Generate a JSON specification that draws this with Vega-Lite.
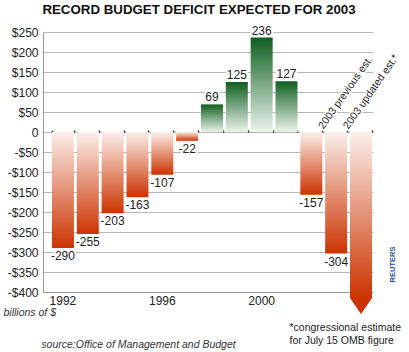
{
  "$schema": "https://vega.github.io/schema/vega-lite/v6.json",
  "width": 330,
  "height": 260,
  "autosize": "none",
  "padding": {"left": 43, "top": 32, "right": 36, "bottom": 60},
  "background": "white",
  "config": {
    "font": "Liberation Sans",
    "view": {"stroke": null},
    "text": {"font": "Liberation Sans"}
  },
  "title": {
    "text": "RECORD BUDGET DEFICIT EXPECTED FOR 2003",
    "font": "Liberation Sans",
    "fontSize": 13.3,
    "fontWeight": "bold",
    "color": "#111111",
    "anchor": "middle",
    "frame": "group",
    "offset": 8,
    "dx": -9
  },
  "data": {
    "values": [
      {"year": "1992", "value": -290, "kind": "actual"},
      {"year": "1993", "value": -255, "kind": "actual"},
      {"year": "1994", "value": -203, "kind": "actual"},
      {"year": "1995", "value": -163, "kind": "actual"},
      {"year": "1996", "value": -107, "kind": "actual"},
      {"year": "1997", "value": -22, "kind": "actual"},
      {"year": "1998", "value": 69, "kind": "actual"},
      {"year": "1999", "value": 125, "kind": "actual"},
      {"year": "2000", "value": 236, "kind": "actual"},
      {"year": "2001", "value": 127, "kind": "actual"},
      {"year": "2002", "value": -157, "kind": "actual"},
      {"year": "2003 previous est.", "value": -304, "kind": "previous"},
      {"year": "2003 updated est.*", "value": -455, "kind": "updated"}
    ]
  },
  "resolve": {"axis": {"x": "independent", "y": "independent"}},
  "layer": [
    {
      "transform": [{"filter": "datum.value < 0 && datum.kind != 'updated'"}],
      "mark": {
        "type": "bar",
        "color": {"gradient": "linear", "x1": 0, "y1": 0, "x2": 0, "y2": 1,
          "stops": [{"offset": 0, "color": "#fcf0eb"}, {"offset": 1, "color": "#cc3300"}]}
      },
      "encoding": {
        "x": {"field": "year", "type": "nominal",
          "scale": {"paddingInner": 0.114, "paddingOuter": 0.2, "align": 0.9},
          "axis": {
            "orient": "bottom",
            "labelExpr": "(datum.value == '1992' || datum.value == '1996' || datum.value == '2000') ? datum.value : ''",
            "labelAngle": 0, "labelFontSize": 12, "labelColor": "#222222", "labelPadding": 3,
            "labelOverlap": false, "labelBound": false,
            "ticks": false, "domainColor": "#999999", "grid": false,
            "title": "source:Office of Management and Budget",
            "titleX": 95, "titleY": 52, "titleAlign": "center", "titleBaseline": "middle",
            "titleFontStyle": "italic", "titleFontWeight": "normal", "titleFontSize": 10.5, "titleColor": "#333333"
          }},
        "y": {"field": "value", "type": "quantitative",
          "scale": {"domain": [-400, 250], "nice": false, "zero": false},
          "axis": {
            "orient": "left",
            "values": [-400, -350, -300, -250, -200, -150, -100, -50, 0, 50, 100, 150, 200, 250],
            "labelExpr": "datum.value < 0 ? '-$' + abs(datum.value) : (datum.value > 0 ? '$' + datum.value : '0')",
            "labelFontSize": 12, "labelColor": "#222222", "labelPadding": 5,
            "ticks": false, "domainColor": "#999999",
            "grid": true, "gridColor": "#b8b8b8", "gridWidth": 1,
            "title": "billions of $", "titleAngle": 0, "titleX": -40, "titleY": 280,
            "titleAlign": "left", "titleBaseline": "middle",
            "titleFontStyle": "italic", "titleFontWeight": "normal", "titleFontSize": 10.5, "titleColor": "#333333"
          }},
        "y2": {"datum": 0}
      }
    },
    {
      "transform": [{"filter": "datum.value > 0"}],
      "mark": {
        "type": "bar",
        "color": {"gradient": "linear", "x1": 0, "y1": 0, "x2": 0, "y2": 1,
          "stops": [{"offset": 0, "color": "#0f5f1f"}, {"offset": 1, "color": "#edf4ed"}]}
      },
      "encoding": {
        "x": {"field": "year", "type": "nominal", "axis": null},
        "y": {"field": "value", "type": "quantitative", "axis": null},
        "y2": {"datum": 0}
      }
    },
    {
      "transform": [{"filter": "datum.kind == 'updated'"}],
      "mark": {
        "type": "bar",
        "yOffset": -16,
        "color": {"gradient": "linear", "x1": 0, "y1": 0, "x2": 0, "y2": 1,
          "stops": [{"offset": 0, "color": "#fcf0eb"}, {"offset": 1, "color": "#cc3300"}]}
      },
      "encoding": {
        "x": {"field": "year", "type": "nominal", "axis": null},
        "y": {"field": "value", "type": "quantitative", "axis": null},
        "y2": {"datum": 0}
      }
    },
    {
      "transform": [{"filter": "datum.kind == 'updated'"}],
      "mark": {
        "type": "point",
        "shape": "M -1 -1.45 L 1 -1.45 L 0 0 Z",
        "size": 484,
        "filled": true,
        "color": "#cc3300",
        "opacity": 1,
        "strokeWidth": 0
      },
      "encoding": {
        "x": {"field": "year", "type": "nominal",
          "axis": {
            "orient": "top", "offset": -100,
            "domain": false, "labels": false, "grid": false,
            "ticks": true, "tickBand": "extent", "tickSize": 2, "tickColor": "#333333", "tickWidth": 1.5,
            "title": ["*congressional estimate", "for July 15 OMB figure"],
            "titleX": 246, "titleY": 190, "titleAlign": "left", "titleBaseline": "top",
            "titleFontSize": 10.5, "titleFontWeight": "normal", "titleColor": "#222222", "titleLineHeight": 13
          }},
        "y": {"field": "value", "type": "quantitative",
          "axis": {
            "orient": "right", "domain": false, "labels": false, "ticks": false, "grid": false,
            "title": "REUTERS", "titleAngle": 270, "titleX": 19, "titleY": 232,
            "titleAlign": "center", "titleBaseline": "middle",
            "titleFontSize": 7.5, "titleFontWeight": "bold", "titleColor": "#2b4c9b"
          }}
      }
    },
    {
      "transform": [{"filter": "datum.value > 0"}],
      "mark": {"type": "text", "baseline": "bottom", "dy": 0, "fontSize": 12, "stroke": "white", "strokeWidth": 4, "strokeJoin": "round", "fill": "white"},
      "encoding": {
        "x": {"field": "year", "type": "nominal", "axis": null},
        "y": {"field": "value", "type": "quantitative", "axis": null},
        "text": {"field": "value", "type": "nominal"}
      }
    },
    {
      "transform": [{"filter": "datum.value > 0"}],
      "mark": {"type": "text", "baseline": "bottom", "dy": 0, "fontSize": 12, "color": "#222222"},
      "encoding": {
        "x": {"field": "year", "type": "nominal", "axis": null},
        "y": {"field": "value", "type": "quantitative", "axis": null},
        "text": {"field": "value", "type": "nominal"}
      }
    },
    {
      "transform": [{"filter": "datum.value < 0 && datum.kind != 'updated'"}],
      "mark": {"type": "text", "baseline": "top", "dy": 3, "fontSize": 12, "stroke": "white", "strokeWidth": 4, "strokeJoin": "round", "fill": "white"},
      "encoding": {
        "x": {"field": "year", "type": "nominal", "axis": null},
        "y": {"field": "value", "type": "quantitative", "axis": null},
        "text": {"field": "value", "type": "nominal"}
      }
    },
    {
      "transform": [{"filter": "datum.value < 0 && datum.kind != 'updated'"}],
      "mark": {"type": "text", "baseline": "top", "dy": 3, "fontSize": 12, "color": "#222222"},
      "encoding": {
        "x": {"field": "year", "type": "nominal", "axis": null},
        "y": {"field": "value", "type": "quantitative", "axis": null},
        "text": {"field": "value", "type": "nominal"}
      }
    },
    {
      "transform": [{"filter": "datum.kind != 'actual'"}],
      "mark": {"type": "text", "align": "left", "baseline": "bottom", "angle": -55, "fontSize": 10.5, "color": "#222222", "stroke": "white", "strokeWidth": 3, "strokeJoin": "round", "fill": "white"},
      "encoding": {
        "x": {"field": "year", "type": "nominal", "bandPosition": 0, "axis": null},
        "y": {"datum": 3, "type": "quantitative", "axis": null},
        "text": {"field": "year", "type": "nominal"}
      }
    },
    {
      "transform": [{"filter": "datum.kind != 'actual'"}],
      "mark": {"type": "text", "align": "left", "baseline": "bottom", "angle": -55, "fontSize": 10.5, "color": "#222222"},
      "encoding": {
        "x": {"field": "year", "type": "nominal", "bandPosition": 0, "axis": null},
        "y": {"datum": 3, "type": "quantitative", "axis": null},
        "text": {"field": "year", "type": "nominal"}
      }
    }
  ]
}
